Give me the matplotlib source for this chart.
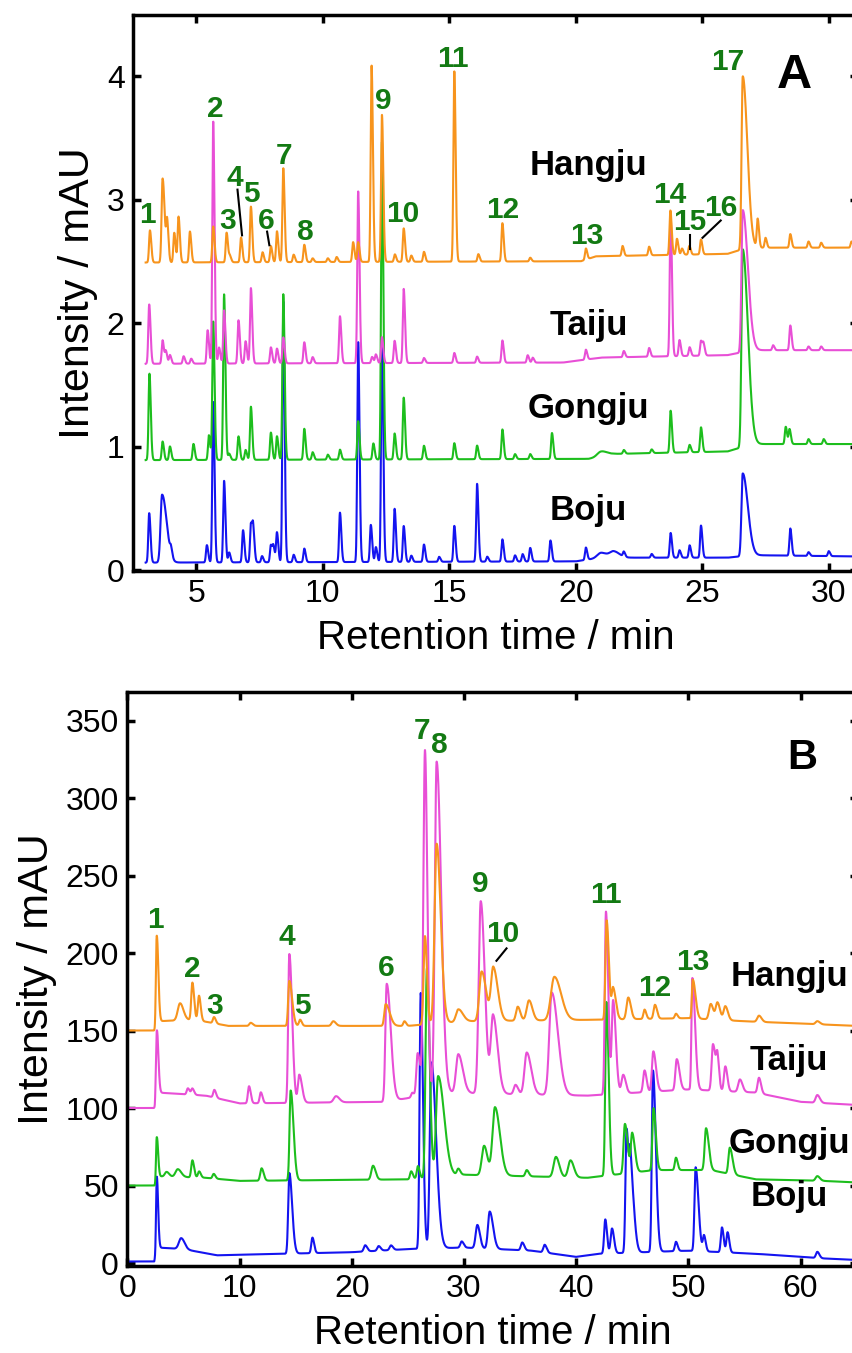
import numpy as np
import matplotlib.pyplot as plt

plt.rcParams['font.family'] = ['Liberation Sans', 'DejaVu Sans']

# colours of the four samples
c_hang = '#F7941D'
c_tai = '#E84FD6'
c_gong = '#1DBE1D'
c_bo = '#1414F0'
c_num = '#137A13'

# ---------------- panel A: baselines (t, mAU) and peaks (t, height[, sigma, tail]) ----------------
hangju_a_base = [(3.0, 2.49), (20.2, 2.50), (20.8, 2.54), (26.0, 2.56), (26.8, 2.61), (31.1, 2.61)]
hangju_a_peaks = [(3.17, 0.26), (3.67, 0.68, 0.04, 2), (3.85, 0.31), (4.13, 0.24), (4.30, 0.37), (4.75, 0.25),
                  (5.67, 0.29), (6.20, 0.24), (6.33, 0.05), (6.77, 0.20), (7.16, 0.45), (7.62, 0.08),
                  (7.95, 0.13), (8.19, 0.25), (8.44, 0.76), (8.85, 0.06), (9.27, 0.14), (9.6, 0.03),
                  (10.2, 0.03), (10.55, 0.04), (11.2, 0.16), (11.4, 0.16), (11.93, 1.59), (12.34, 1.19),
                  (12.85, 0.06), (13.2, 0.27), (13.5, 0.05), (14.0, 0.08), (15.2, 1.54), (16.15, 0.06),
                  (17.1, 0.31), (18.2, 0.03), (20.4, 0.09), (21.85, 0.08), (22.9, 0.07), (23.74, 0.36),
                  (24.0, 0.13), (24.2, 0.05), (24.49, 0.07), (24.95, 0.12), (26.6, 1.40, 0.045, 4),
                  (27.19, 0.23), (27.5, 0.08), (28.48, 0.11), (29.2, 0.05), (29.7, 0.04), (30.9, 0.05)]

taiju_a_base = [(3.0, 1.67), (19.5, 1.68), (21.0, 1.72), (26.0, 1.74), (27.0, 1.78), (31.1, 1.78)]
taiju_a_peaks = [(3.14, 0.48), (3.67, 0.19), (3.80, 0.10), (3.96, 0.07), (4.5, 0.06), (4.8, 0.04),
                 (5.45, 0.27), (5.67, 1.96), (5.9, 0.13), (6.1, 0.43), (6.67, 0.35), (6.95, 0.18),
                 (7.16, 0.61), (7.95, 0.13), (8.19, 0.12), (8.44, 0.21), (9.27, 0.17), (9.6, 0.05),
                 (10.68, 0.38), (11.4, 1.39), (11.95, 0.05), (12.1, 0.07), (12.34, 0.21), (12.84, 0.18),
                 (13.2, 0.60), (14.0, 0.04), (15.2, 0.08), (16.1, 0.05), (17.1, 0.18), (18.1, 0.06),
                 (18.3, 0.04), (20.4, 0.08), (21.9, 0.05), (22.9, 0.07), (23.75, 1.13), (24.1, 0.13),
                 (24.5, 0.07), (24.95, 0.12), (25.05, 0.09), (26.6, 1.15, 0.05, 4), (27.8, 0.04),
                 (28.48, 0.20), (29.2, 0.03), (29.7, 0.03)]

gongju_a_base = [(3.0, 0.89), (20.5, 0.90), (21.5, 0.94), (26.0, 0.96), (27.0, 1.02), (31.1, 1.02)]
gongju_a_peaks = [(3.15, 0.70), (3.67, 0.15), (3.96, 0.11), (4.89, 0.13), (5.5, 0.20), (5.67, 1.12),
                  (6.1, 1.34), (6.3, 0.05), (6.67, 0.19), (6.95, 0.08), (7.16, 0.43), (7.95, 0.22),
                  (8.19, 0.19), (8.44, 1.34), (9.27, 0.25), (9.6, 0.06), (10.2, 0.04), (10.68, 0.08),
                  (11.4, 0.31), (12.0, 0.13), (12.34, 2.57), (12.84, 0.21), (13.2, 0.50), (14.0, 0.11),
                  (15.2, 0.13), (16.1, 0.11), (17.1, 0.24), (17.6, 0.04), (18.2, 0.04), (19.06, 0.21),
                  (21.0, 0.04, 0.15), (21.9, 0.03), (23.0, 0.03), (23.75, 0.34), (24.5, 0.06), (24.95, 0.20),
                  (26.6, 1.60, 0.05, 4), (28.3, 0.14), (28.45, 0.12), (29.2, 0.04), (29.8, 0.04)]

boju_a_base = [(3.0, 0.06), (20.0, 0.07), (21.0, 0.10), (26.0, 0.10), (27.0, 0.12), (31.1, 0.11)]
boju_a_peaks = [(3.14, 0.40), (3.65, 0.55, 0.06, 3), (4.0, 0.06), (5.42, 0.14), (5.67, 1.30), (6.1, 0.66),
                (6.3, 0.08), (6.85, 0.26), (7.16, 0.31), (7.25, 0.25), (7.6, 0.05), (7.95, 0.14),
                (8.05, 0.12), (8.19, 0.24), (8.44, 2.11), (8.85, 0.06), (9.27, 0.11), (10.68, 0.40),
                (11.4, 1.78), (11.9, 0.30), (12.1, 0.12), (12.34, 1.80), (12.84, 0.43), (13.2, 0.29),
                (13.5, 0.05), (14.0, 0.14), (14.6, 0.04), (15.2, 0.29), (16.1, 0.63), (16.5, 0.04),
                (17.1, 0.18), (17.6, 0.05), (17.9, 0.06), (18.2, 0.11), (19.0, 0.17), (20.4, 0.10),
                (21.0, 0.04, 0.15), (21.5, 0.05, 0.15), (21.9, 0.04), (23.0, 0.03), (23.75, 0.20),
                (24.1, 0.06), (24.5, 0.10), (24.95, 0.26), (26.6, 0.67, 0.05, 4), (28.48, 0.22),
                (29.2, 0.03), (30.0, 0.04)]

# peak numbers (text, t, mAU) and leader lines
a_numbers = [('1', 3.06, 2.81), ('2', 5.74, 3.67), ('3', 6.24, 2.76), ('4', 6.54, 3.11), ('5', 7.19, 2.98),
             ('6', 7.78, 2.76), ('7', 8.49, 3.29), ('8', 9.3, 2.67), ('9', 12.39, 3.73), ('10', 13.18, 2.82),
             ('11', 15.13, 4.07), ('12', 17.1, 2.85), ('13', 20.44, 2.64), ('14', 23.7, 2.97),
             ('15', 24.49, 2.75), ('16', 25.74, 2.87), ('17', 26.0, 4.05)]
a_leaders = [((6.63, 6.81), (3.08, 2.71)), ((7.80, 7.89), (2.74, 2.63)),
             ((24.51, 24.51), (2.71, 2.60)), ((25.73, 25.01), (2.83, 2.69))]
a_names = [('Hangju', 3.20), ('Taiju', 1.90), ('Gongju', 1.23), ('Boju', 0.405)]

# ---------------- panel B ----------------
hangju_b_base = [(0, 150), (2.45, 150), (2.7, 156), (6, 157), (9, 153), (25, 153), (30, 156), (42, 157),
                 (50, 158), (55, 156), (65, 153)]
hangju_b_peaks = [(2.62, 57, 0.07, 2), (4.7, 11, 0.2), (5.8, 24, 0.1), (6.39, 16, 0.1), (7.73, 4, 0.1),
                  (11.0, 2), (14.44, 29, 0.1, 2.5), (15.4, 4, 0.1), (18.36, 3, 0.15), (23.03, 14, 0.12, 3),
                  (24.7, 3, 0.1), (26.53, 57, 0.12), (27.57, 116, 0.18, 2), (29.5, 8, 0.2, 2),
                  (31.58, 32, 0.2, 2), (32.62, 34, 0.2, 2), (34.8, 9, 0.15), (35.8, 13, 0.2),
                  (38.06, 28, 0.3, 2), (42.72, 64, 0.1, 2), (43.3, 20, 0.12, 2), (44.65, 14, 0.15),
                  (46.1, 6, 0.1), (47.03, 9, 0.12), (48.9, 3, 0.1), (50.4, 25, 0.08, 3), (52.0, 10, 0.15),
                  (52.6, 11, 0.15), (53.3, 9, 0.15), (56.3, 4, 0.15), (61.5, 2, 0.15)]

taiju_b_base = [(0, 100), (2.45, 100), (2.7, 110), (7, 108), (10, 103), (23, 104), (28, 110), (41, 108),
                (50, 112), (56, 110), (60, 104), (65, 102)]
taiju_b_peaks = [(2.62, 43, 0.07, 2), (5.4, 4, 0.1), (5.8, 4, 0.1), (7.76, 5, 0.1), (10.85, 11, 0.1),
                 (11.9, 7, 0.1), (14.44, 96, 0.1, 2.5), (15.33, 18, 0.12, 2), (18.6, 4, 0.2),
                 (23.12, 76, 0.12, 3), (25.4, 3, 0.1), (25.88, 28, 0.12, 2), (26.53, 222, 0.14),
                 (27.57, 214, 0.16, 2.5), (29.5, 25, 0.2, 2), (31.5, 124, 0.18, 2), (32.6, 50, 0.2, 2),
                 (34.6, 6, 0.15), (35.6, 27, 0.2, 2), (37.83, 66, 0.22, 2.5), (42.66, 118, 0.1, 2),
                 (43.3, 60, 0.12, 2), (44.2, 12, 0.15), (46.1, 14, 0.12), (46.88, 26, 0.12, 2),
                 (48.97, 20, 0.12, 2), (50.36, 72, 0.08, 3), (52.2, 30, 0.12, 2), (52.6, 18, 0.1),
                 (53.3, 16, 0.12), (54.6, 8, 0.15), (56.3, 10, 0.12), (61.5, 5, 0.15)]

gongju_b_base = [(0, 50), (2.45, 50), (2.7, 56), (7, 55), (10, 53), (25, 54), (30, 57), (41, 55), (47, 60),
                 (52, 60), (56, 54), (62, 53), (65, 52)]
gongju_b_peaks = [(2.62, 27, 0.06, 2), (3.5, 3, 0.15), (4.5, 5, 0.2), (5.8, 11, 0.1), (6.4, 4, 0.1),
                  (7.7, 3, 0.1), (11.97, 8, 0.12), (14.56, 58, 0.1, 2.5), (21.9, 9, 0.15), (25.3, 5, 0.1),
                  (25.9, 8, 0.1), (26.7, 135, 0.12, 2), (27.7, 65, 0.18, 3), (29.5, 4), (31.8, 19, 0.2),
                  (32.77, 44, 0.22, 2), (35.6, 4), (38.2, 13, 0.2), (39.5, 11, 0.2), (42.7, 112, 0.1, 2),
                  (44.35, 32, 0.12, 2), (45.0, 25, 0.12, 2), (46.9, 40, 0.1, 2), (48.9, 8, 0.1),
                  (51.58, 27, 0.12, 2), (53.7, 17, 0.12, 2), (61.5, 3, 0.15)]

boju_b_base = [(0, 1), (2.4, 1), (2.7, 10), (5, 9), (8, 5), (14, 6), (20, 7), (25, 9), (30, 10), (36, 8),
               (40, 4), (42, 6), (50, 8), (56, 6), (62, 3), (65, 2)]
boju_b_peaks = [(2.62, 48, 0.06, 2), (4.8, 7, 0.2), (14.44, 52, 0.1, 2.5), (16.5, 10, 0.1), (21.2, 4),
                (22.4, 3), (23.5, 3), (26.15, 165, 0.1, 2), (27.1, 120, 0.14, 3), (29.8, 4),
                (31.2, 15, 0.15), (32.3, 24, 0.15, 2), (35.2, 5), (37.2, 5), (42.6, 22, 0.1),
                (43.2, 16, 0.12), (44.5, 80, 0.1, 2), (44.85, 50, 0.1, 3), (46.85, 117, 0.1, 2.5),
                (48.9, 6, 0.1), (50.65, 54, 0.1, 2.5), (51.4, 10, 0.1), (53.0, 16, 0.1), (53.5, 13, 0.1),
                (61.5, 4, 0.12)]

b_numbers = [('1', 2.47, 216), ('2', 5.8, 184.7), ('3', 7.82, 160.6), ('4', 14.2, 205), ('5', 15.63, 160.6),
             ('6', 23.1, 185), ('7', 26.3, 337.8), ('8', 27.85, 329), ('9', 31.5, 239.5), ('10', 33.5, 207),
             ('11', 42.66, 232), ('12', 46.97, 172), ('13', 50.4, 189)]
b_leaders = [((33.8, 32.9), (203, 195))]
b_names = [('Hangju', 179), ('Taiju', 124.5), ('Gongju', 71), ('Boju', 37)]


def trace(t, base, peaks, w0, k0):
    bt, bv = zip(*base)
    y = np.interp(t, bt, bv)
    for p in peaks:
        t0, h = p[0], p[1]
        w = p[2] if len(p) > 2 else w0
        k = p[3] if len(p) > 3 else k0
        s = np.where(t < t0, w, w * k)
        y = y + h * np.exp(-0.5 * ((t - t0) / s) ** 2)
    return y


W, H = 852, 1353
fig = plt.figure(figsize=(W / 100, H / 100), dpi=100)


def px_axes(l, t, r, b):
    return fig.add_axes([l / W, 1 - b / H, (r - l) / W, (b - t) / H])


def style(ax):
    for s in ax.spines.values():
        s.set_linewidth(2.5)
    ax.tick_params(direction='in', length=5.5, width=2.5, top=True, right=True,
                   labelsize=23, pad=6)
    ax.set_xlabel('Retention time / min', fontsize=29, labelpad=7)
    ax.set_ylabel('Intensity / mAU', fontsize=31, labelpad=6)


colors = [c_bo, c_gong, c_tai, c_hang]

# panel A
axA = px_axes(133, 15, 858, 571)
ta = np.arange(3.0, 31.2, 0.004)
for base, peaks, c in zip([boju_a_base, gongju_a_base, taiju_a_base, hangju_a_base],
                          [boju_a_peaks, gongju_a_peaks, taiju_a_peaks, hangju_a_peaks], colors):
    axA.plot(ta, trace(ta, base, peaks, 0.035, 1.5), color=c, lw=1.5)
for s, x, y in a_numbers:
    axA.text(x, y, s, color=c_num, fontsize=21.5, fontweight='bold', ha='center', va='baseline')
for xs, ys in a_leaders:
    axA.plot(xs, ys, color='k', lw=1.5)
for s, y in a_names:
    axA.text(20.5, y, s, fontsize=25, fontweight='bold', ha='center', va='baseline')
axA.text(28.64, 3.9, 'A', fontsize=35, fontweight='bold', ha='center', va='baseline')
axA.set_xlim(2.5, 2.5 + 725 / 25.3)
axA.set_ylim(-0.008, 4.494)
axA.set_xticks([5, 10, 15, 20, 25, 30])
axA.set_yticks([0, 1, 2, 3, 4])
style(axA)

# panel B
axB = px_axes(127.3, 692, 858, 1266)
tb = np.arange(0, 65.2, 0.01)
for base, peaks, c in zip([boju_b_base, gongju_b_base, taiju_b_base, hangju_b_base],
                          [boju_b_peaks, gongju_b_peaks, taiju_b_peaks, hangju_b_peaks], colors):
    axB.plot(tb, trace(tb, base, peaks, 0.12, 1.5), color=c, lw=1.5)
for s, x, y in b_numbers:
    axB.text(x, y, s, color=c_num, fontsize=21.5, fontweight='bold', ha='center', va='baseline')
for xs, ys in b_leaders:
    axB.plot(xs, ys, color='k', lw=1.5)
for s, y in b_names:
    axB.text(59.0, y, s, fontsize=25, fontweight='bold', ha='center', va='baseline')
axB.text(60.2, 319, 'B', fontsize=30, fontweight='bold', ha='center', va='baseline')
axB.set_xlim(0, (858 - 127.3) / 11.22)
axB.set_ylim(-1.9, 368.4)
axB.set_xticks([0, 10, 20, 30, 40, 50, 60])
axB.set_yticks([0, 50, 100, 150, 200, 250, 300, 350])
style(axB)

fig.savefig('out.png', dpi=100)
